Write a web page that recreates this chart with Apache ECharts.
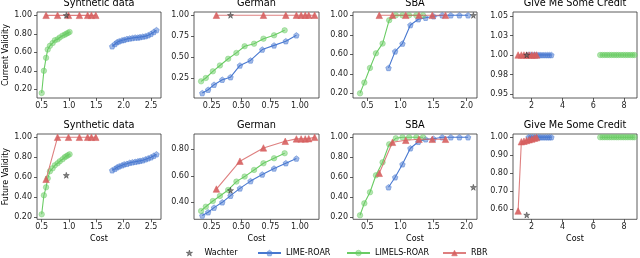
<!DOCTYPE html>
<html><head><meta charset="utf-8">
<script src="https://cdn.jsdelivr.net/npm/echarts@6/dist/echarts.min.js"></script>
<style>html,body{margin:0;padding:0;background:#fff}#c{width:640px;height:258px}</style>
</head><body><div id="c"></div>
<script>
// ---------- Data ----------
// Synthetic data
const synLimeCost   = [1.79,1.84,1.88,1.92,1.97,2.01,2.06,2.11,2.16,2.21,2.26,2.30,2.35,2.40,2.45,2.50,2.55,2.60];
const synLimeCur    = [0.665,0.69,0.71,0.72,0.73,0.735,0.745,0.75,0.755,0.76,0.76,0.765,0.77,0.775,0.785,0.80,0.82,0.84];
const synLimeFut    = [0.67,0.685,0.70,0.71,0.72,0.73,0.735,0.745,0.75,0.755,0.76,0.765,0.77,0.78,0.79,0.80,0.815,0.83];
const synLimelsCost = [0.50,0.54,0.58,0.61,0.65,0.70,0.74,0.79,0.83,0.88,0.92,0.95,0.98,1.01];
const synLimelsCur  = [0.16,0.40,0.54,0.63,0.67,0.70,0.73,0.74,0.76,0.78,0.79,0.80,0.81,0.82];
const synLimelsFut  = [0.23,0.42,0.50,0.59,0.66,0.69,0.72,0.74,0.76,0.78,0.80,0.81,0.82,0.83];
const synRbrCost    = [0.58,0.79,0.99,1.19,1.34,1.41,1.49];
const synRbrCur     = [1.00,1.00,1.00,1.00,1.00,1.00,1.00];
const synRbrFut     = [0.58,1.00,1.00,1.00,1.00,1.00,1.00];
const synWachterCost = [0.95];
const synWachterCur  = [1.00];
const synWachterFut  = [0.62];

// German
const gerLimeCost   = [0.17,0.22,0.27,0.34,0.41,0.49,0.58,0.68,0.78,0.88,0.97];
const gerLimeCur    = [0.07,0.11,0.17,0.23,0.26,0.40,0.46,0.59,0.64,0.69,0.76];
const gerLimeFut    = [0.30,0.325,0.36,0.40,0.45,0.505,0.56,0.61,0.655,0.695,0.73];
const gerLimelsCost = [0.16,0.20,0.26,0.32,0.39,0.46,0.53,0.61,0.69,0.78,0.87];
const gerLimelsCur  = [0.21,0.25,0.33,0.40,0.48,0.55,0.63,0.66,0.72,0.76,0.82];
const gerLimelsFut  = [0.335,0.367,0.41,0.448,0.493,0.556,0.594,0.644,0.694,0.732,0.77];
const gerRbrCostCur = [0.29,0.69,0.88,0.97,1.01,1.045,1.075,1.125];
const gerRbrCur     = [1.00,1.00,1.00,1.00,1.00,1.00,1.00,1.00];
const gerRbrCostFut = [0.29,0.49,0.69,0.875,0.97,1.01,1.045,1.075,1.125];
const gerRbrFut     = [0.50,0.71,0.81,0.86,0.878,0.878,0.878,0.88,0.89];
const gerWachterCost = [0.41];
const gerWachterCur  = [1.00];
const gerWachterFut  = [0.49];

// SBA
const sbaLimeCost   = [0.82,0.92,1.03,1.15,1.27,1.38,1.50,1.63,1.76,1.89,2.02];
const sbaLimeCur    = [0.46,0.63,0.71,0.90,0.96,0.975,0.99,1.00,1.00,1.00,1.00];
const sbaLimeFut    = [0.50,0.60,0.73,0.89,0.955,0.98,0.985,1.00,1.00,1.00,1.00];
const sbaLimelsCost = [0.39,0.455,0.54,0.63,0.73,0.83,0.93,1.03,1.13,1.24,1.34];
const sbaLimelsCur  = [0.20,0.31,0.46,0.61,0.71,0.95,1.00,1.00,1.00,1.00,1.00];
const sbaLimelsFut  = [0.22,0.34,0.45,0.62,0.75,0.93,0.99,1.00,1.00,1.00,1.00];
const sbaRbrCost    = [0.68,0.88,1.08,1.28,1.48,1.68];
const sbaRbrCur     = [1.00,1.00,1.00,1.00,1.00,1.00];
const sbaRbrFut     = [0.64,0.95,0.97,0.98,0.98,0.98];
const sbaWachterCost = [2.10];
const sbaWachterCur  = [1.00];
const sbaWachterFut  = [0.50];

// Give Me Some Credit
const gmscLimeCost   = [1.80,1.93,2.06,2.20,2.33,2.47,2.60,2.74,2.88,3.02,3.15,3.28];
const gmscLimeCur    = [1,1,1,1,1,1,1,1,1,1,1,1];
const gmscLimeFut    = [1,1,1,1,1,1,1,1,1,1,1,1];
const gmscLimelsCost = [6.45,6.60,6.75,6.90,7.05,7.20,7.35,7.50,7.64,7.80,7.95,8.10,8.25,8.40,8.55,8.68];
const gmscLimelsCur  = [1,1,1,1,1,1,1,1,1,1,1,1,1,1,1,1];
const gmscLimelsFut  = [1,1,1,1,1,1,1,1,1,1,1,1,1,1,1,1];
const gmscRbrCost    = [1.12,1.33,1.50,1.67,1.84,2.01,2.18,2.32];
const gmscRbrCur     = [1,1,1,1,1,1,1,1];
const gmscRbrFut     = [0.59,0.975,0.978,0.982,0.986,0.99,0.995,0.998];
const gmscWachterCost = [1.68];
const gmscWachterCur  = [1.00];
const gmscWachterFut  = [0.568];

// Tick values and labels
const synXTicks = [0.5,1.0,1.5,2.0,2.5];       const synXLabels = ['0.5','1.0','1.5','2.0','2.5'];
const gerXTicks = [0.25,0.5,0.75,1.0];         const gerXLabels = ['0.25','0.50','0.75','1.00'];
const sbaXTicks = [0.5,1.0,1.5,2.0];           const sbaXLabels = ['0.5','1.0','1.5','2.0'];
const gmscXTicks = [2,4,6,8];                  const gmscXLabels = ['2','4','6','8'];
const y02Ticks = [0.2,0.4,0.6,0.8,1.0];        const y02Labels = ['0.20','0.40','0.60','0.80','1.00'];
const gerCurYTicks = [0.25,0.5,0.75,1.0];      const gerCurYLabels = ['0.25','0.50','0.75','1.00'];
const gerFutYTicks = [0.4,0.6,0.8];            const gerFutYLabels = ['0.40','0.60','0.80'];
const gmscCurYTicks = [0.95,0.975,1.0,1.025,1.05]; const gmscCurYLabels = ['0.95','0.98','1.00','1.03','1.05'];
const gmscFutYTicks = [0.6,0.7,0.8,0.9,1.0];   const gmscFutYLabels = ['0.60','0.70','0.80','0.90','1.00'];

const titles = ['Synthetic data','German','SBA','Give Me Some Credit'];
const rowLabels = ['Current Validity','Future Validity'];
const legendNames = ['Wachter','LIME-ROAR','LIMELS-ROAR','RBR'];

// ---------- Layout / style ----------
const F = 'DejaVu Sans';
const C_LIME = '#4878D0', C_LIMELS = '#6ACC64', C_RBR = '#D65F5F';
const PENT = 'path://M0,-10L9.51,-3.09L5.88,8.09L-5.88,8.09L-9.51,-3.09Z';
const STAR = 'path://M0,-10L2.245,-3.09L9.51,-3.09L3.633,1.18L5.878,8.09L0,3.82L-5.878,8.09L-3.633,1.18L-9.51,-3.09L-2.245,-3.09Z';
const cols = [{l:37,w:124},{l:194,w:125},{l:353,w:124},{l:513,w:124}];
const rows = [{t:12,h:86},{t:134,h:85.3}];

const panels = [
  {xr:[0.414,2.683], yr:[0.106,1.036], xt:synXTicks, xl:synXLabels, yt:y02Ticks, yl:y02Labels,
   lime:[synLimeCost,synLimeCur], limels:[synLimelsCost,synLimelsCur], rbr:[synRbrCost,synRbrCur], w:[synWachterCost,synWachterCur]},
  {xr:[0.0996,1.162], yr:[0.011,1.039], xt:gerXTicks, xl:gerXLabels, yt:gerCurYTicks, yl:gerCurYLabels,
   lime:[gerLimeCost,gerLimeCur], limels:[gerLimelsCost,gerLimelsCur], rbr:[gerRbrCostCur,gerRbrCur], w:[gerWachterCost,gerWachterCur]},
  {xr:[0.284,2.155], yr:[0.152,1.034], xt:sbaXTicks, xl:sbaXLabels, yt:y02Ticks, yl:y02Labels,
   lime:[sbaLimeCost,sbaLimeCur], limels:[sbaLimelsCost,sbaLimelsCur], rbr:[sbaRbrCost,sbaRbrCur], w:[sbaWachterCost,sbaWachterCur]},
  {xr:[0.788,8.84], yr:[0.945,1.055], xt:gmscXTicks, xl:gmscXLabels, yt:gmscCurYTicks, yl:gmscCurYLabels,
   lime:[gmscLimeCost,gmscLimeCur], limels:[gmscLimelsCost,gmscLimelsCur], rbr:[gmscRbrCost,gmscRbrCur], w:[gmscWachterCost,gmscWachterCur]},
  {xr:[0.414,2.683], yr:[0.18,1.033], xt:synXTicks, xl:synXLabels, yt:y02Ticks, yl:y02Labels,
   lime:[synLimeCost,synLimeFut], limels:[synLimelsCost,synLimelsFut], rbr:[synRbrCost,synRbrFut], w:[synWachterCost,synWachterFut]},
  {xr:[0.0996,1.162], yr:[0.272,0.915], xt:gerXTicks, xl:gerXLabels, yt:gerFutYTicks, yl:gerFutYLabels,
   lime:[gerLimeCost,gerLimeFut], limels:[gerLimelsCost,gerLimelsFut], rbr:[gerRbrCostFut,gerRbrFut], w:[gerWachterCost,gerWachterFut]},
  {xr:[0.284,2.155], yr:[0.18,1.033], xt:sbaXTicks, xl:sbaXLabels, yt:y02Ticks, yl:y02Labels,
   lime:[sbaLimeCost,sbaLimeFut], limels:[sbaLimelsCost,sbaLimelsFut], rbr:[sbaRbrCost,sbaRbrFut], w:[sbaWachterCost,sbaWachterFut]},
  {xr:[0.788,8.84], yr:[0.544,1.018], xt:gmscXTicks, xl:gmscXLabels, yt:gmscFutYTicks, yl:gmscFutYLabels,
   lime:[gmscLimeCost,gmscLimeFut], limels:[gmscLimelsCost,gmscLimelsFut], rbr:[gmscRbrCost,gmscRbrFut], w:[gmscWachterCost,gmscWachterFut]}
];

function fmt(ticks, labels) {
  return function (v) {
    for (let i = 0; i < ticks.length; i++) if (Math.abs(ticks[i] - v) < 1e-9) return labels[i];
    return '';
  };
}
function pairs(xs, ys) { return xs.map((x, i) => [x, ys[i]]); }

const grid = [], xAxis = [], yAxis = [], series = [], graphic = [];
panels.forEach((p, i) => {
  const r = Math.floor(i / 4), c = i % 4;
  grid.push({left: cols[c].l, top: rows[r].t, width: cols[c].w, height: rows[r].h,
    show: true, borderColor: '#333', borderWidth: 0.8, backgroundColor: 'transparent'});
  xAxis.push({type: 'value', gridIndex: i, min: p.xr[0], max: p.xr[1],
    name: r === 1 ? 'Cost' : '', nameLocation: 'middle', nameGap: 16,
    nameTextStyle: {fontSize: 8, color: '#000', fontFamily: F},
    axisLine: {show: false},
    axisTick: {show: true, length: 3, customValues: p.xt, lineStyle: {color: '#333', width: 0.8}},
    axisLabel: {customValues: p.xt, formatter: fmt(p.xt, p.xl), fontSize: 8, color: '#222', margin: 4, fontFamily: F},
    splitLine: {show: false}});
  yAxis.push({type: 'value', gridIndex: i, min: p.yr[0], max: p.yr[1],
    name: c === 0 ? rowLabels[r] : '', nameLocation: 'middle', nameGap: 25,
    nameTextStyle: {fontSize: 8, color: '#000', fontFamily: F},
    axisLine: {show: false},
    axisTick: {show: true, length: 3, customValues: p.yt, lineStyle: {color: '#333', width: 0.8}},
    axisLabel: {customValues: p.yt, formatter: fmt(p.yt, p.yl), fontSize: 8, color: '#222', margin: 5, fontFamily: F},
    splitLine: {show: false}});
  const base = {xAxisIndex: i, yAxisIndex: i, animation: false, emphasis: {disabled: true}, silent: true};
  series.push(Object.assign({}, base, {type: 'line', name: 'LIME-ROAR', data: pairs(p.lime[0], p.lime[1]),
    symbol: PENT, symbolSize: 5.5, showSymbol: true, z: 3,
    lineStyle: {color: C_LIME, width: 1.1},
    itemStyle: {color: 'rgba(72,120,208,0.5)', borderColor: C_LIME, borderWidth: 0.5}}));
  series.push(Object.assign({}, base, {type: 'line', name: 'LIMELS-ROAR', data: pairs(p.limels[0], p.limels[1]),
    symbol: 'circle', symbolSize: 5.5, showSymbol: true, z: 4,
    lineStyle: {color: C_LIMELS, width: 1.1},
    itemStyle: {color: 'rgba(106,204,100,0.5)', borderColor: 'rgba(106,204,100,0.8)', borderWidth: 0.5}}));
  series.push(Object.assign({}, base, {type: 'line', name: 'RBR', data: pairs(p.rbr[0], p.rbr[1]),
    symbol: 'triangle', symbolSize: 6.5, showSymbol: true, z: 5,
    lineStyle: {color: 'rgba(214,95,95,0.8)', width: 1.1},
    itemStyle: {color: 'rgba(214,95,95,0.9)', borderColor: C_RBR, borderWidth: 0.5}}));
  series.push(Object.assign({}, base, {type: 'scatter', name: 'Wachter', data: pairs(p.w[0], p.w[1]),
    symbol: STAR, symbolSize: 6, z: 6,
    itemStyle: {color: '#666', borderColor: '#222', borderWidth: 0.5}}));
  graphic.push({type: 'text', x: cols[c].l + cols[c].w / 2, y: r === 0 ? 3 : 125, silent: true,
    style: {text: titles[c], fill: '#000', font: '9.75px "DejaVu Sans"', align: 'center', verticalAlign: 'middle'}});
});

const legText = {fontSize: 8, color: '#000', fontFamily: F};
const legBase = {top: 249, padding: 0, itemHeight: 7, itemWidth: 23, selectedMode: false, textStyle: legText,
  orient: 'horizontal', itemStyle: {borderWidth: 0.5}};
const legend = [
  Object.assign({}, legBase, {left: 186, itemWidth: 20, itemHeight: 6, data: [legendNames[0]]}),
  Object.assign({}, legBase, {left: 257, data: [legendNames[1]]}),
  Object.assign({}, legBase, {left: 346, data: [legendNames[2]]}),
  Object.assign({}, legBase, {left: 442, data: [legendNames[3]]})
];

const chart = echarts.init(document.getElementById('c'), null, {renderer: 'canvas'});
chart.setOption({animation: false, backgroundColor: '#fff', grid, xAxis, yAxis, series, legend, graphic});
</script>
</body></html>
